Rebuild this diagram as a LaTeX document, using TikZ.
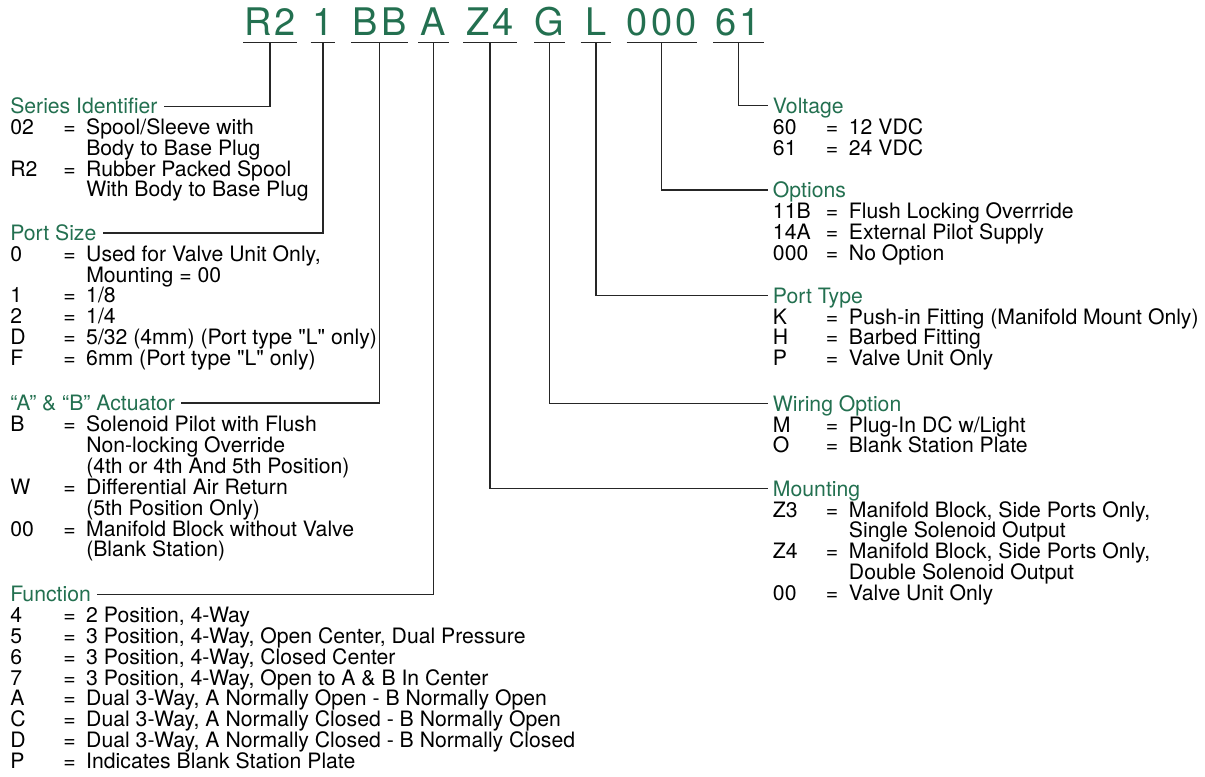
\documentclass[tikz,border=0pt]{standalone}
\usepackage{fontspec}
\usepackage{array}
\setmainfont{TeX Gyre Heros}[Ligatures=TeXOff]
\newfontfamily\codefont[LetterSpace=8]{TeX Gyre Heros}
\usetikzlibrary{calc,positioning}
\definecolor{codegreen}{RGB}{35,112,80}
\setlength{\extrarowheight}{3.15pt}
\newcommand{\codelist}[1]{\begin{tabular}[t]{@{}p{39.75pt}@{}p{17.25pt}@{}l@{}}#1\end{tabular}}

\begin{document}
\begin{tikzpicture}[
  x=0.75pt, y=-0.75pt,
  codebox/.style={font=\fontsize{28.5}{30}\codefont, text=codegreen, inner xsep=0pt, inner ysep=0pt, text depth=5.5pt, anchor=base},
  grouphead/.style={font=\fontsize{15.9}{15.5}\selectfont, text=codegreen, inner sep=0pt, anchor=base west},
  grouplist/.style={font=\fontsize{15.9}{12.5}\selectfont, inner sep=0pt, anchor=base west},
  leader/.style={draw=black!85, line width=0.8pt}
]
\useasboundingbox (0,0) rectangle (1205,776);

% model code
\node[codebox, minimum width=39.5pt] (series)   at (270,35)   {R2};
\node[codebox, minimum width=18pt]   (portsize) at (323,35)   {1};
\node[codebox, minimum width=42pt]   (actuator) at (379.5,35) {BB};
\node[codebox, minimum width=22.5pt] (function) at (433.3,35) {A};
\node[codebox, minimum width=39.5pt] (mounting) at (490,35)   {Z4};
\node[codebox, minimum width=22.5pt] (wiring)   at (549.5,35) {G};
\node[codebox, minimum width=22.5pt] (porttype) at (596,35)   {L};
\node[codebox, minimum width=51pt]   (options)  at (661.7,35) {000};
\node[codebox, minimum width=37.5pt] (voltage)  at (738.3,35) {61};

\foreach \n in {series,portsize,actuator,function,mounting,wiring,porttype,options,voltage}
  \draw[leader] (\n.south west) -- (\n.south east);

% left column
\node[grouphead] (hSeries) at (10,113.3) {Series Identifier};
\node[grouplist] (lSeries) at (10,134.3) {\codelist{
02 & = & Spool/Sleeve with\\
   &   & Body to Base Plug\\
R2 & = & Rubber Packed Spool\\
   &   & With Body to Base Plug}};

\node[grouphead] (hPortsize) at (10,240) {Port Size};
\node[grouplist] (lPortsize) at (10,261.2) {\codelist{
0 & = & Used for Valve Unit Only,\\
  &   & Mounting = 00\\
1 & = & 1/8\\
2 & = & 1/4\\
D & = & 5/32 (4mm) (Port type "L" only)\\
F & = & 6mm (Port type "L" only)}};

\node[grouphead] (hActuator) at (10,410) {“A” \& “B” Actuator};
\node[grouplist] (lActuator) at (10,431.7) {\codelist{
B  & = & Solenoid Pilot with Flush\\
   &   & Non-locking Override\\
   &   & (4th or 4th And 5th Position)\\
W  & = & Differential Air Return\\
   &   & (5th Position Only)\\
00 & = & Manifold Block without Valve\\
   &   & (Blank Station)}};

\node[grouphead] (hFunction) at (10,601.5) {Function};
\node[grouplist] (lFunction) at (10,622.4) {\codelist{
4 & = & 2 Position, 4-Way\\
5 & = & 3 Position, 4-Way, Open Center, Dual Pressure\\
6 & = & 3 Position, 4-Way, Closed Center\\
7 & = & 3 Position, 4-Way, Open to A \& B In Center\\
A & = & Dual 3-Way, A Normally Open - B Normally Open\\
C & = & Dual 3-Way, A Normally Closed - B Normally Open\\
D & = & Dual 3-Way, A Normally Closed - B Normally Closed\\
P & = & Indicates Blank Station Plate}};

% right column
\node[grouphead] (hVoltage) at (772.7,113.3) {Voltage};
\node[grouplist] (lVoltage) at (772.7,134.3) {\codelist{
60 & = & 12 VDC\\
61 & = & 24 VDC}};

\node[grouphead] (hOptions) at (772.7,197.5) {Options};
\node[grouplist] (lOptions) at (772.7,218.5) {\codelist{
11B & = & Flush Locking Overrride\\
14A & = & External Pilot Supply\\
000 & = & No Option}};

\node[grouphead] (hPorttype) at (772.7,303) {Port Type};
\node[grouplist] (lPorttype) at (772.7,324) {\codelist{
K & = & Push-in Fitting (Manifold Mount Only)\\
H & = & Barbed Fitting\\
P & = & Valve Unit Only}};

\node[grouphead] (hWiring) at (772.7,411) {Wiring Option};
\node[grouplist] (lWiring) at (772.7,432) {\codelist{
M & = & Plug-In DC w/Light\\
O & = & Blank Station Plate}};

\node[grouphead] (hMounting) at (772.7,496) {Mounting};
\node[grouplist] (lMounting) at (772.7,517) {\codelist{
Z3 & = & Manifold Block, Side Ports Only,\\
   &   & Single Solenoid Output\\
Z4 & = & Manifold Block, Side Ports Only,\\
   &   & Double Solenoid Output\\
00 & = & Valve Unit Only}};

% leaders
\foreach \h/\c in {Series/series,Portsize/portsize,Actuator/actuator,Function/function}{
  \coordinate (c\h) at ($(h\h.base east)+(6,-7)$);
  \draw[leader] (\c.south) |- (c\h);
}
\foreach \h/\c in {Voltage/voltage,Options/options,Porttype/porttype,Wiring/wiring,Mounting/mounting}{
  \coordinate (c\h) at ($(h\h.base west)+(-4.5,-7.5)$);
  \draw[leader] (\c.south) |- (c\h);
}

\end{tikzpicture}
\end{document}
